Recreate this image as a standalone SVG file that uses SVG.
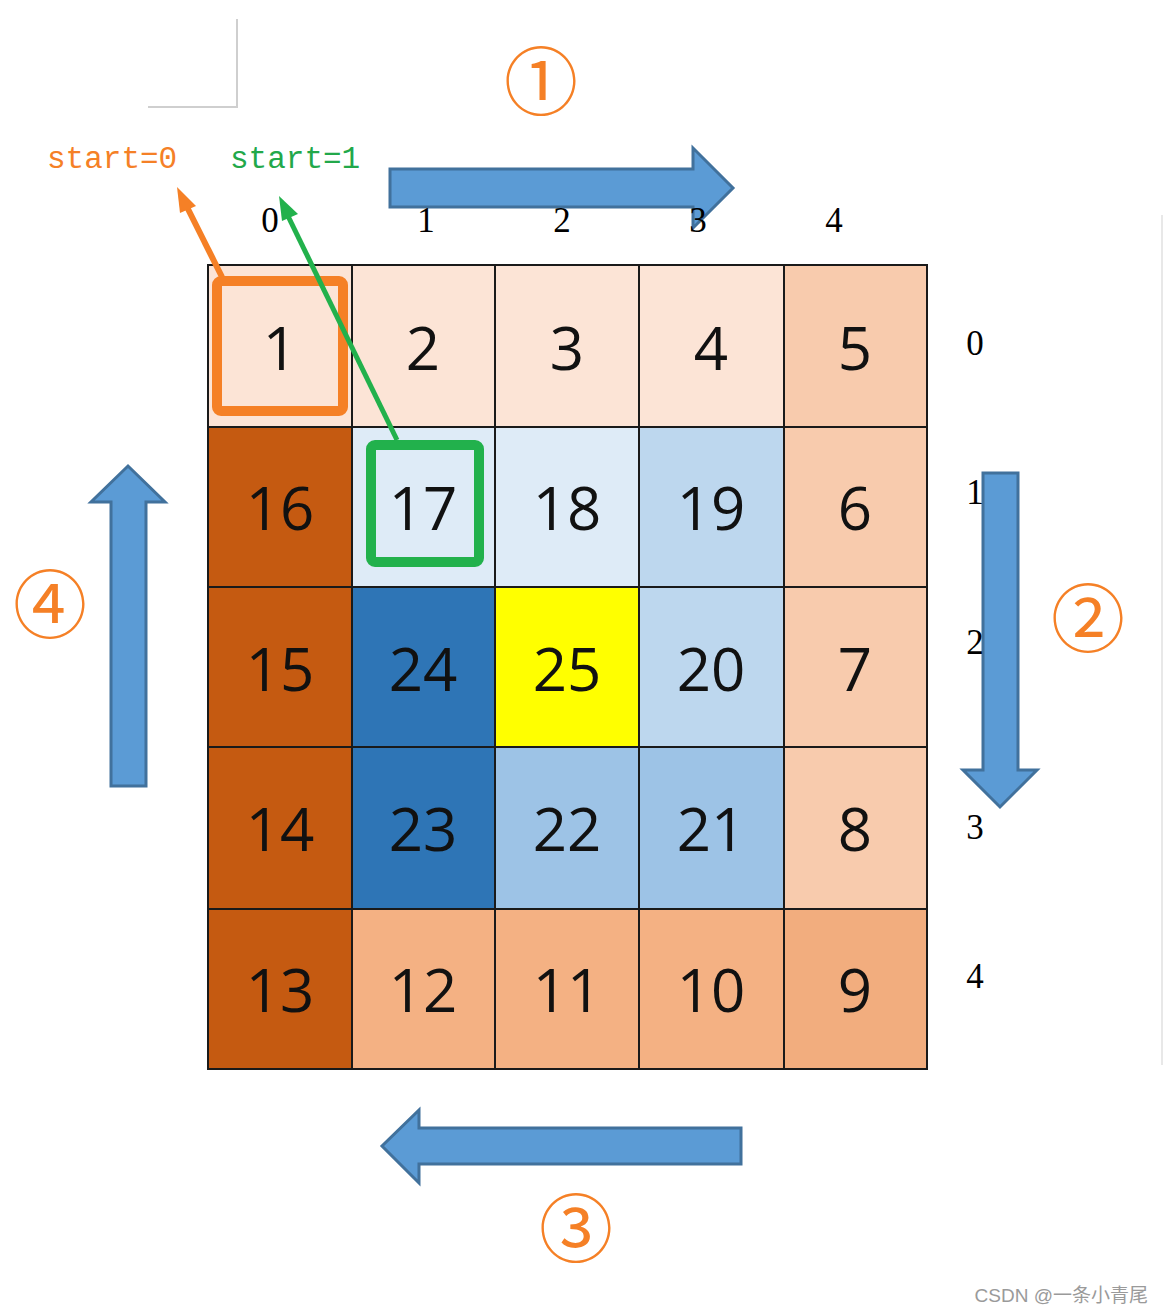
<svg xmlns="http://www.w3.org/2000/svg" width="1163" height="1313" viewBox="0 0 1163 1313">
<style>
.cell{stroke:#1a1a1a;stroke-width:2}
.num{font-family:"Open Sans","Noto Sans",sans-serif;font-size:60px;fill:#111;text-anchor:middle}
.idx{font-family:"Liberation Serif","DejaVu Serif",serif;font-size:35px;fill:#000;text-anchor:middle}
.blue{fill:#5B9BD5;stroke:#41719C;stroke-width:3;stroke-linejoin:miter}
.circ{font-family:"Noto Sans CJK SC","DejaVu Sans",sans-serif;font-size:74px;fill:#F58026;text-anchor:middle}
.start{font-family:"Liberation Mono","DejaVu Sans Mono",monospace;font-size:31px}
</style>
<rect width="1163" height="1313" fill="#ffffff"/>
<g id="page-corner" fill="none" stroke="#cfcfcf" stroke-width="2">
<path d="M237,19 L237,107 L148,107"/>
</g>
<line x1="1162" y1="215" x2="1162" y2="1065" stroke="#e8e8e8" stroke-width="2"/>
<g id="labels-start">
<text class="start" x="47" y="168" fill="#F58026">start=0</text>
<text class="start" x="230" y="168" fill="#22A84A">start=1</text>
</g>
<g id="grid">
<g id="c1"><rect class="cell" x="208" y="265" width="144" height="162" fill="#FCE4D6"/><text class="num" x="280" y="370">1</text></g>
<g id="c2"><rect class="cell" x="352" y="265" width="143" height="162" fill="#FCE4D6"/><text class="num" x="423" y="370">2</text></g>
<g id="c3"><rect class="cell" x="495" y="265" width="144" height="162" fill="#FCE4D6"/><text class="num" x="567" y="370">3</text></g>
<g id="c4"><rect class="cell" x="639" y="265" width="145" height="162" fill="#FCE4D6"/><text class="num" x="711" y="370">4</text></g>
<g id="c5"><rect class="cell" x="784" y="265" width="143" height="162" fill="#F8CBAD"/><text class="num" x="855" y="370">5</text></g>
<g id="c16"><rect class="cell" x="208" y="427" width="144" height="160" fill="#C55A11"/><text class="num" x="280" y="530">16</text></g>
<g id="c17"><rect class="cell" x="352" y="427" width="143" height="160" fill="#DEEBF7"/><text class="num" x="423" y="530">17</text></g>
<g id="c18"><rect class="cell" x="495" y="427" width="144" height="160" fill="#DEEBF7"/><text class="num" x="567" y="530">18</text></g>
<g id="c19"><rect class="cell" x="639" y="427" width="145" height="160" fill="#BDD7EE"/><text class="num" x="711" y="530">19</text></g>
<g id="c6"><rect class="cell" x="784" y="427" width="143" height="160" fill="#F8CBAD"/><text class="num" x="855" y="530">6</text></g>
<g id="c15"><rect class="cell" x="208" y="587" width="144" height="160" fill="#C55A11"/><text class="num" x="280" y="691">15</text></g>
<g id="c24"><rect class="cell" x="352" y="587" width="143" height="160" fill="#2E75B6"/><text class="num" x="423" y="691">24</text></g>
<g id="c25"><rect class="cell" x="495" y="587" width="144" height="160" fill="#FFFF00"/><text class="num" x="567" y="691">25</text></g>
<g id="c20"><rect class="cell" x="639" y="587" width="145" height="160" fill="#BDD7EE"/><text class="num" x="711" y="691">20</text></g>
<g id="c7"><rect class="cell" x="784" y="587" width="143" height="160" fill="#F8CBAD"/><text class="num" x="855" y="691">7</text></g>
<g id="c14"><rect class="cell" x="208" y="747" width="144" height="162" fill="#C55A11"/><text class="num" x="280" y="851">14</text></g>
<g id="c23"><rect class="cell" x="352" y="747" width="143" height="162" fill="#2E75B6"/><text class="num" x="423" y="851">23</text></g>
<g id="c22"><rect class="cell" x="495" y="747" width="144" height="162" fill="#9DC3E6"/><text class="num" x="567" y="851">22</text></g>
<g id="c21"><rect class="cell" x="639" y="747" width="145" height="162" fill="#9DC3E6"/><text class="num" x="711" y="851">21</text></g>
<g id="c8"><rect class="cell" x="784" y="747" width="143" height="162" fill="#F8CBAD"/><text class="num" x="855" y="851">8</text></g>
<g id="c13"><rect class="cell" x="208" y="909" width="144" height="160" fill="#C55A11"/><text class="num" x="280" y="1012">13</text></g>
<g id="c12"><rect class="cell" x="352" y="909" width="143" height="160" fill="#F4B183"/><text class="num" x="423" y="1012">12</text></g>
<g id="c11"><rect class="cell" x="495" y="909" width="144" height="160" fill="#F4B183"/><text class="num" x="567" y="1012">11</text></g>
<g id="c10"><rect class="cell" x="639" y="909" width="145" height="160" fill="#F4B183"/><text class="num" x="711" y="1012">10</text></g>
<g id="c9"><rect class="cell" x="784" y="909" width="143" height="160" fill="#F2AD7E"/><text class="num" x="855" y="1012">9</text></g>
</g>
<g id="highlight-orange"><rect x="217" y="281" width="126" height="130" rx="4" fill="none" stroke="#F58026" stroke-width="10"/></g>
<g id="highlight-green"><rect x="371" y="445" width="108" height="117" rx="4" fill="none" stroke="#22B14C" stroke-width="10"/></g>
<g id="connectors">
<line x1="222" y1="277" x2="187" y2="207" stroke="#F58026" stroke-width="6"/>
<path d="M177,187 L196,206 L180,213 Z" fill="#F58026"/>
<line x1="397" y1="440" x2="287" y2="214" stroke="#22B14C" stroke-width="5"/>
<path d="M279,196 L298,214 L282,221 Z" fill="#22B14C"/>
</g>
<g id="arrow1"><path class="blue" d="M390,169 L693,169 L693,148 L733,188 L693,228 L693,207 L390,207 Z"/></g>
<g id="arrow2"><path class="blue" d="M983,473 L1018,473 L1018,770 L1037,770 L1000,807 L963,770 L983,770 Z"/></g>
<g id="arrow3"><path class="blue" d="M741,1128 L419,1128 L419,1110 L382,1146 L419,1183 L419,1164 L741,1164 Z"/></g>
<g id="arrow4"><path class="blue" d="M111,786 L146,786 L146,502 L165,502 L128,466 L91,502 L111,502 Z"/></g>
<g id="col-index">
<text class="idx" x="270" y="232">0</text>
<text class="idx" x="426" y="232">1</text>
<text class="idx" x="562" y="232">2</text>
<text class="idx" x="698" y="232">3</text>
<text class="idx" x="834" y="232">4</text>
</g>
<g id="row-index">
<text class="idx" x="975" y="355">0</text>
<text class="idx" x="975" y="504">1</text>
<text class="idx" x="975" y="654">2</text>
<text class="idx" x="975" y="839">3</text>
<text class="idx" x="975" y="988">4</text>
</g>
<g id="step-labels">
<text class="circ" x="541" y="109">①</text>
<text class="circ" x="1088" y="646">②</text>
<text class="circ" x="576" y="1256">③</text>
<text class="circ" x="50" y="632">④</text>
</g>
<text x="1148" y="1302" text-anchor="end" font-family="'Liberation Sans','Noto Sans CJK SC',sans-serif" font-size="19" fill="#9a9a9a">CSDN @一条小青尾</text>
</svg>
